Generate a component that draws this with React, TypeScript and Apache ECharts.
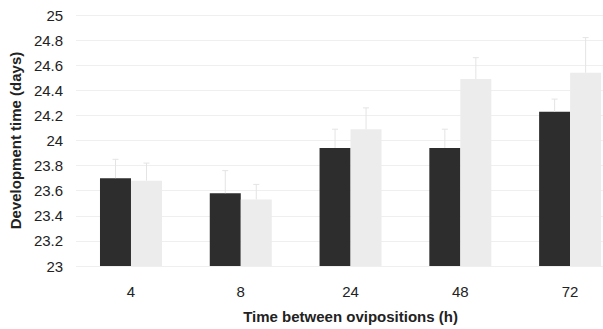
import React, { useEffect, useRef } from "react";
import * as echarts from "echarts";

const categories = ["4", "8", "24", "48", "72"];
const darkValues = [23.7, 23.58, 23.94, 23.94, 24.23];
const lightValues = [23.68, 23.53, 24.09, 24.49, 24.54];
const darkErrors = [0.15, 0.18, 0.15, 0.15, 0.1];
const lightErrors = [0.14, 0.12, 0.17, 0.17, 0.28];

const BAR_W = 31;

function errorSeries(values: number[], errors: number[], offset: number) {
  return {
    type: "custom",
    silent: true,
    z: 5,
    data: values.map((v, i) => [i, v, v + errors[i]]),
    renderItem: (params: any, api: any) => {
      const x = api.coord([api.value(0), api.value(1)])[0] + offset;
      const yLow = api.coord([api.value(0), api.value(1)])[1];
      const yHigh = api.coord([api.value(0), api.value(2)])[1];
      return {
        type: "group",
        children: [
          {
            type: "line",
            shape: { x1: x, y1: yLow, x2: x, y2: yHigh },
            style: { stroke: "#e4e4e4", lineWidth: 1 },
          },
          {
            type: "line",
            shape: { x1: x - 3, y1: yHigh, x2: x + 3, y2: yHigh },
            style: { stroke: "#e4e4e4", lineWidth: 1 },
          },
        ],
      };
    },
  };
}

export default function App() {
  const ref = useRef<HTMLDivElement>(null);
  useEffect(() => {
    if (!ref.current) return;
    const chart = echarts.init(ref.current, null, { renderer: "svg" });
    chart.setOption({
      animation: false,
      backgroundColor: "#ffffff",
      textStyle: { fontFamily: "Liberation Sans, Arial, sans-serif" },
      grid: { left: 76, right: 0, top: 15, bottom: 63 },
      xAxis: {
        type: "category",
        data: categories,
        axisLine: { show: false },
        axisTick: { show: false },
        axisLabel: { color: "#222", fontSize: 15, margin: 18 },
        name: "Time between ovipositions (h)",
        nameLocation: "middle",
        nameGap: 43,
        nameTextStyle: { color: "#222", fontSize: 15, fontWeight: "bold" },
      },
      yAxis: {
        type: "value",
        min: 23,
        max: 25,
        interval: 0.2,
        axisLine: { show: false },
        axisTick: { show: false },
        axisLabel: { color: "#222", fontSize: 15, margin: 13 },
        splitLine: { show: true, lineStyle: { color: "#efefef", width: 1 } },
        name: "Development time (days)",
        nameLocation: "middle",
        nameGap: 52,
        nameTextStyle: { color: "#222", fontSize: 15, fontWeight: "bold" },
      },
      series: [
        {
          type: "bar",
          data: darkValues,
          barWidth: BAR_W,
          barGap: "0%",
          itemStyle: { color: "#2d2d2d" },
        },
        {
          type: "bar",
          data: lightValues,
          barWidth: BAR_W,
          barGap: "0%",
          itemStyle: { color: "#ececec" },
        },
        errorSeries(darkValues, darkErrors, -BAR_W / 2),
        errorSeries(lightValues, lightErrors, BAR_W / 2),
      ],
    });
    return () => chart.dispose();
  }, []);
  return (
    <div
      style={{
        position: "fixed",
        left: 0,
        top: 0,
        width: 603,
        height: 329,
        overflow: "hidden",
        background: "#fff",
      }}
    >
      <div ref={ref} style={{ width: 625, height: 329 }} />
    </div>
  );
}
